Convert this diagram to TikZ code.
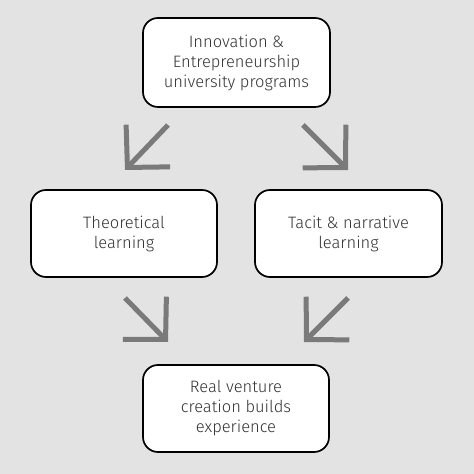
\documentclass[tikz,border=0pt]{standalone}
\usepackage{fontspec}
\setmainfont{Fira Sans}[UprightFont={* Light}]
\usetikzlibrary{arrows.meta}

\begin{document}
\begin{tikzpicture}[x=1pt,y=1pt,
    box/.style={draw=black,line width=1.7pt,fill=white,rounded corners=15pt,
      minimum height=87pt,align=center,text=black!80,
      font=\fontsize{16.5}{20}\selectfont},
    arr/.style={draw=black!52,line width=5pt,
      -{Straight Barb[length=30pt,width=61pt]}}]
    \fill [black!11] (0,0) rectangle (474,474);
    \useasboundingbox (0,0) rectangle (474,474);

    \node [box,minimum width=187pt,minimum height=89pt] (inno) at (236.5,411.5)
      {Innovation \&\\Entrepreneurship\\university programs};
    \node [box,minimum width=186pt] (theory) at (124,240.5)
      {Theoretical\\learning};
    \node [box,minimum width=187pt] (tacit) at (348.5,240.5)
      {Tacit \& narrative\\learning};
    \node [box,minimum width=186pt] (venture) at (236,65.5)
      {Real venture\\creation builds\\experience};

    % arrows between the rows
    \coordinate (a1) at (168,349); \coordinate (b1) at (125,304);
    \coordinate (a2) at (303,349); \coordinate (b2) at (348,304);
    \coordinate (a3) at (125,176); \coordinate (b3) at (168,132);
    \coordinate (a4) at (348,176); \coordinate (b4) at (304,132);
    \draw [arr] (a1) -- (b1);
    \draw [arr] (a2) -- (b2);
    \draw [arr] (a3) -- (b3);
    \draw [arr] (a4) -- (b4);
\end{tikzpicture}
\end{document}
